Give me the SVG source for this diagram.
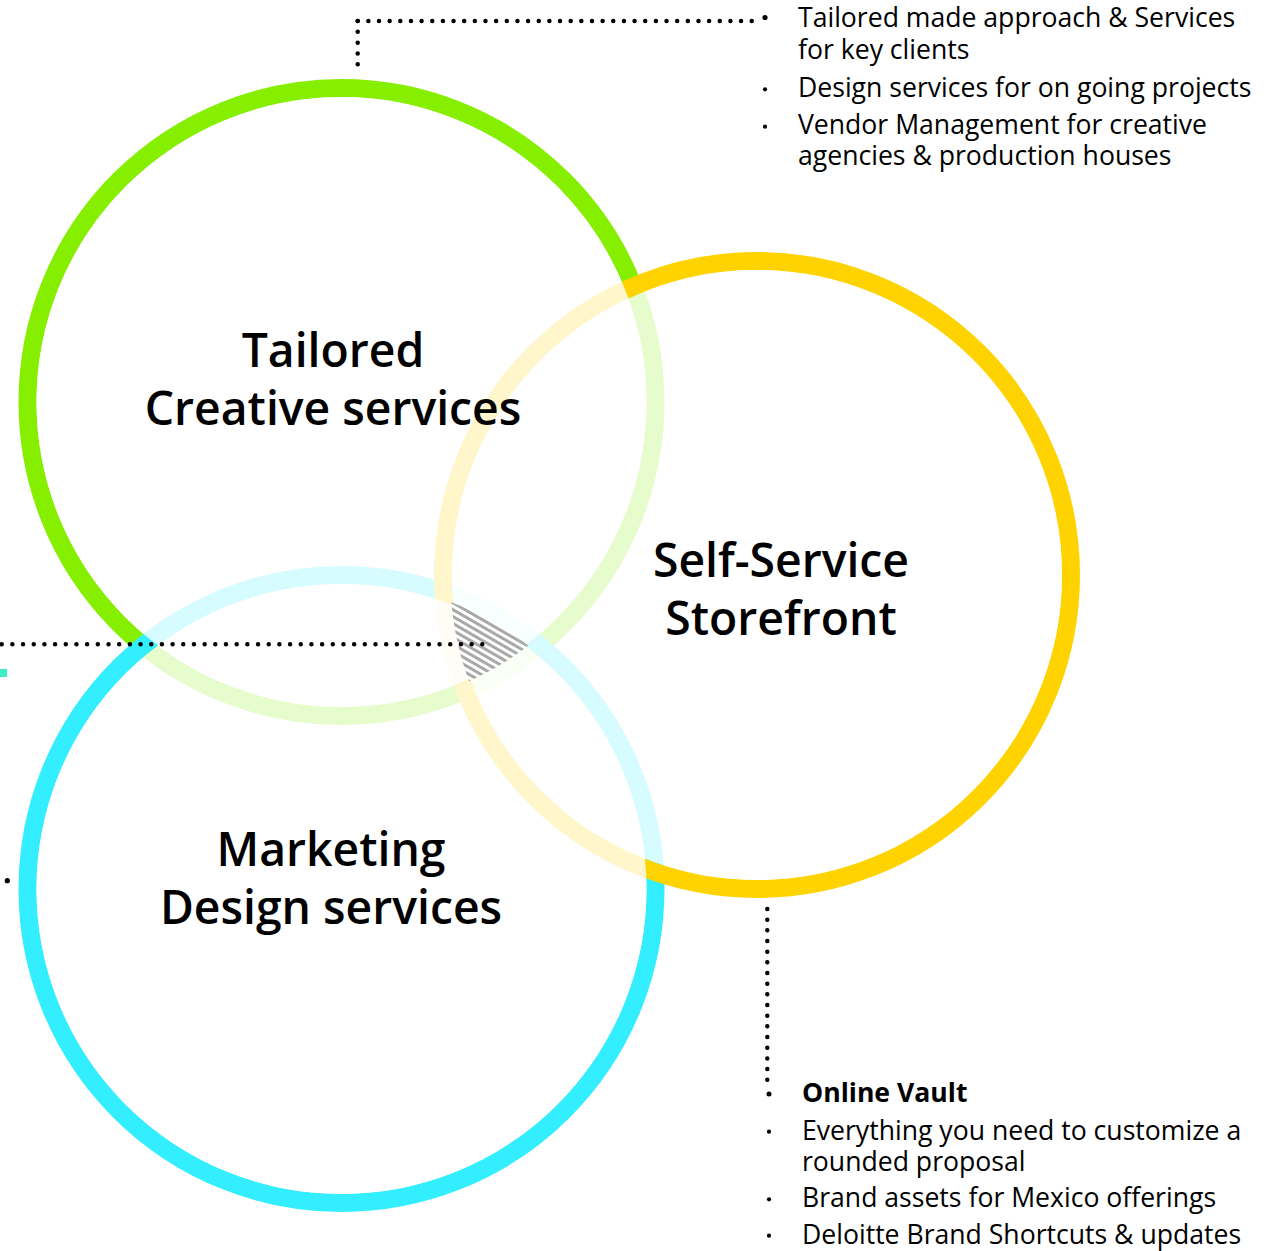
<svg xmlns="http://www.w3.org/2000/svg" width="1286" height="1251" viewBox="0 0 1286 1251">
<style>
.ring{fill:none;stroke-width:18}
.veil{fill:#fff;fill-opacity:0.8}
.title{font-family:"Open Sans","Liberation Sans",sans-serif;font-weight:600;font-size:46.3px;fill:#000;text-anchor:middle}
.list{font-family:"Open Sans","Liberation Sans",sans-serif;font-size:26.6px;fill:#000}
.bold{font-weight:700}
.dots{fill:none;stroke:#000;stroke-width:4.5;stroke-linecap:round}
.bullet{fill:#000}
</style>
<defs>
<pattern id="hatch" width="6" height="6" patternUnits="userSpaceOnUse" patternTransform="rotate(30)">
<rect width="6" height="6" fill="#fff"/>
<rect width="6" height="3" fill="#a8a8a8"/>
</pattern>
<clipPath id="cG"><circle cx="341.5" cy="402" r="307"/></clipPath>
<clipPath id="cY"><circle cx="757" cy="575" r="307"/></clipPath>
<clipPath id="cC"><circle cx="341.5" cy="889" r="307"/></clipPath>
</defs>
<rect width="1286" height="1251" fill="#fff"/>
<g id="rings">
<circle id="ring-tailored" class="ring" cx="341.5" cy="402" r="314" stroke="#86EF00"/>
<circle id="ring-marketing" class="ring" cx="341.5" cy="889" r="314" stroke="#33EEFF"/>
<circle id="ring-selfservice" class="ring" cx="757" cy="575" r="314" stroke="#FFD300"/>
</g>
<g id="veils">
<circle class="veil" cx="341.5" cy="402" r="305"/>
<circle class="veil" cx="757" cy="575" r="305"/>
<circle class="veil" cx="341.5" cy="889" r="305"/>
</g>
<g id="overlap" clip-path="url(#cG)">
<g clip-path="url(#cY)">
<rect x="420" y="580" width="140" height="120" fill="url(#hatch)" clip-path="url(#cC)"/>
</g>
</g>
<g id="connectors">
<path class="dots" d="M357.7,64.3 V21" stroke-dasharray="0 10.825"/>
<path class="dots" d="M357.7,21 H752.5" stroke-dasharray="0 10.649"/>
<path class="dots" d="M1.7,644.3 H483" stroke-dasharray="0 10.68"/>
<path class="dots" d="M767.3,909 V1080.5" stroke-dasharray="0 10.67"/>
<circle cx="7.3" cy="880.7" r="2.6" fill="#000"/>
<rect x="0" y="669" width="7" height="8" fill="#3CEFC5"/>
</g>
<g id="node-tailored">
<text class="title" x="333" y="367">Tailored</text>
<text class="title" x="333" y="425">Creative services</text>
</g>
<g id="node-selfservice">
<text class="title" x="781" y="577">Self-Service</text>
<text class="title" x="781" y="635">Storefront</text>
</g>
<g id="node-marketing">
<text class="title" x="331" y="866">Marketing</text>
<text class="title" x="331" y="924">Design services</text>
</g>
<g id="list-top">
<circle class="bullet" cx="765" cy="17.5" r="2.6"/>
<circle class="bullet" cx="765" cy="89.3" r="2.1"/>
<circle class="bullet" cx="765" cy="126.7" r="2.1"/>
<text class="list" x="798" y="27">Tailored made approach &amp; Services</text>
<text class="list" x="798" y="58.5">for key clients</text>
<text class="list" x="798" y="97">Design services for on going projects</text>
<text class="list" x="798" y="133.5">Vendor Management for creative</text>
<text class="list" x="798" y="165">agencies &amp; production houses</text>
</g>
<g id="list-bottom">
<circle class="bullet" cx="769" cy="1094" r="2.5"/>
<circle class="bullet" cx="769" cy="1131.7" r="2.1"/>
<circle class="bullet" cx="769" cy="1199.3" r="2.1"/>
<circle class="bullet" cx="769" cy="1235.7" r="2.1"/>
<text class="list bold" x="802" y="1101.7">Online Vault</text>
<text class="list" x="802" y="1140">Everything you need to customize a</text>
<text class="list" x="802" y="1171">rounded proposal</text>
<text class="list" x="802" y="1207.3">Brand assets for Mexico offerings</text>
<text class="list" x="802" y="1244.3">Deloitte Brand Shortcuts &amp; updates</text>
</g>
</svg>
